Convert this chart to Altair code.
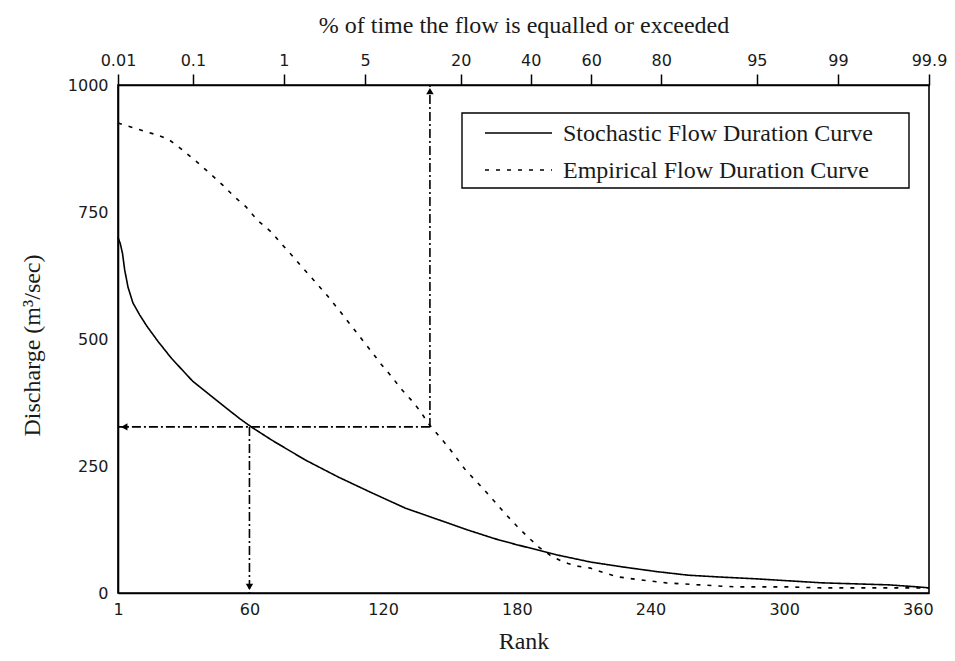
import altair as alt
import pandas as pd
from statistics import NormalDist

# ---- data ----
stoch_rank = [1, 2, 3, 4, 5.5, 7.7, 10.8, 14, 19, 25, 34.5, 45, 55.4, 60.8, 70, 85, 100, 115,
              130, 145, 158, 170, 180, 190, 198, 213, 228, 243, 257, 273, 287, 302, 317, 332,
              347, 360, 365]
stoch_q = [700, 688, 669, 636, 602, 571, 547, 525, 495, 462, 417, 380, 344, 327, 301, 262, 228,
           197, 167, 144, 124, 107, 95, 84, 75, 61, 51, 42, 35, 31, 28, 24, 20, 18, 16, 12, 10]

emp_rank = [1, 8.6, 13, 19, 24, 30, 36, 42, 48, 53, 58.5, 63.5, 69.7, 74, 79, 83.5, 88, 95, 100,
            105, 110, 115, 119, 124, 128, 133, 137, 140, 145.5, 150, 157, 165, 170, 175, 180,
            185, 190, 195, 200, 203, 207, 213, 219, 225, 235, 247, 262, 278, 302, 317, 347, 360,
            365]
emp_q = [925, 915, 909, 901, 892, 872, 850, 827, 803, 781, 760, 734, 711, 689, 665, 642, 620,
         585, 558, 530, 502, 474, 451, 425, 402, 378, 356, 335, 307, 283, 242, 205, 180, 155,
         132, 110, 90, 74, 63, 58, 53, 49, 40, 32, 26, 20, 16, 12, 12, 10, 10, 10, 10]

series_names = ["Stochastic Flow Duration Curve", "Empirical Flow Duration Curve"]
series_dash = [[1, 0], [4, 7]]
rank_ticks = [1, 60, 120, 180, 240, 300, 360]
q_ticks = [0, 250, 500, 750, 1000]
pct_ticks = [0.01, 0.1, 1, 5, 20, 40, 60, 80, 95, 99, 99.9]

# reading example (dash-dot guides)
read_rank = 60
read_q = 327
pct_rank = 141
guide_x = [pct_rank, pct_rank, read_rank]
guide_x2 = [pct_rank, 1, read_rank]
guide_y = [read_q, read_q, read_q]
guide_y2 = [1000, read_q, 0]
arrow_x = [pct_rank, 3.8, read_rank]
arrow_y = [988, read_q, 12]
arrow_shape = ["triangle-up", "triangle-left", "triangle-down"]

# ---- build tables ----
nd = NormalDist()
z_ticks = [nd.inv_cdf(p / 100) for p in pct_ticks]

curves = pd.concat([
    pd.DataFrame({"rank": stoch_rank, "q": stoch_q, "series": series_names[0]}),
    pd.DataFrame({"rank": emp_rank, "q": emp_q, "series": series_names[1]}),
])
guides = pd.DataFrame({"x": guide_x, "x2": guide_x2, "y": guide_y, "y2": guide_y2})
arrows = pd.DataFrame({"x": arrow_x, "y": arrow_y, "shape": arrow_shape})
legend_df = pd.DataFrame({"label": series_names})

label_font = "DejaVu Sans"
title_font = "Liberation Serif"
ink = "#1a1a1a"

xscale = alt.Scale(domain=[1, 365], nice=False, zero=False)
yscale = alt.Scale(domain=[0, 1000], nice=False)

x_axis = alt.Axis(values=rank_ticks, ticks=False, labelPadding=8, labelFlush=False,
                  title="Rank", titleY=55, titleBaseline="alphabetic",
                  titleFont=title_font, titleFontSize=24, titleFontWeight="normal")
y_axis = alt.Axis(values=q_ticks, ticks=False, labelPadding=10, labelFlush=False, format="d",
                  title="Discharge (m³/sec)", titleX=-86, titleY=260, titleAngle=-90,
                  titleAlign="center", titleBaseline="middle",
                  titleFont=title_font, titleFontSize=24, titleFontWeight="normal")

lines = alt.Chart(curves).mark_line(color="black", strokeWidth=1.6).encode(
    x=alt.X("rank:Q", scale=xscale, axis=x_axis),
    y=alt.Y("q:Q", scale=yscale, axis=y_axis),
    strokeDash=alt.StrokeDash(
        "series:N",
        scale=alt.Scale(domain=series_names, range=series_dash),
        legend=None,
    ),
    order="rank:Q",
)

guide_layer = alt.Chart(guides).mark_rule(color="black", strokeWidth=1.6,
                                          strokeDash=[9, 3, 2, 3]).encode(
    x=alt.X("x:Q", scale=xscale, axis=x_axis), x2="x2:Q",
    y=alt.Y("y:Q", scale=yscale, axis=y_axis), y2="y2:Q",
)

arrow_layer = alt.Chart(arrows).mark_point(filled=True, color="black", size=55, opacity=1).encode(
    x=alt.X("x:Q", scale=xscale, axis=x_axis),
    y=alt.Y("y:Q", scale=yscale, axis=y_axis),
    shape=alt.Shape("shape:N", scale=None),
)

# ---- legend box (drawn as marks) ----
legend_box = alt.Chart(legend_df.head(1)).mark_rect(
    fill="white", stroke="black", strokeWidth=1.4
).encode(x=alt.value(344), x2=alt.value(791), y=alt.value(28), y2=alt.value(103))

legend_parts = [legend_box]
for i, name in enumerate(series_names):
    row = legend_df[legend_df["label"] == name]
    ypix = 48 + 37 * i
    legend_parts.append(
        alt.Chart(row).mark_rule(color="black", strokeWidth=1.5, strokeDash=series_dash[i]).encode(
            x=alt.value(367), x2=alt.value(434), y=alt.value(ypix)
        )
    )
    legend_parts.append(
        alt.Chart(row).mark_text(align="left", baseline="middle", font=title_font,
                                 fontSize=24, color=ink).encode(
            text="label:N", x=alt.value(445), y=alt.value(ypix + 1)
        )
    )

top_axis = alt.Chart(pd.DataFrame({"z": z_ticks})).mark_point(opacity=0).encode(
    x=alt.X("z:Q",
            scale=alt.Scale(domain=[z_ticks[0], z_ticks[-1]], nice=False, zero=False),
            axis=alt.Axis(orient="top", values=z_ticks, tickSize=11, tickColor="black",
                          tickWidth=1.5, labelPadding=6, labelFlush=False,
                          labelExpr="toString(round(cumulativeNormal(datum.value)*10000)/100)",
                          title="% of time the flow is equalled or exceeded",
                          titleY=-53, titleBaseline="alphabetic",
                          titleFont=title_font, titleFontSize=24, titleFontWeight="normal")),
    y=alt.value(0),
)

main = alt.layer(lines, guide_layer, arrow_layer, *legend_parts)

chart = alt.layer(main, top_axis).resolve_scale(
    x="independent"
).properties(
    width=811, height=508,
    background="white",
    autosize=alt.AutoSizeParams(type="none"),
    padding={"left": 110, "top": 77, "right": 18, "bottom": 60},
).configure_view(
    stroke="black", strokeWidth=1.6
).configure_axis(
    grid=False, domainColor="black", domainWidth=1.6,
    labelFont=label_font, labelFontSize=16, labelColor=ink, titleColor=ink,
)

chart.save("out.html", embed_options={"renderer": "svg", "actions": False})
